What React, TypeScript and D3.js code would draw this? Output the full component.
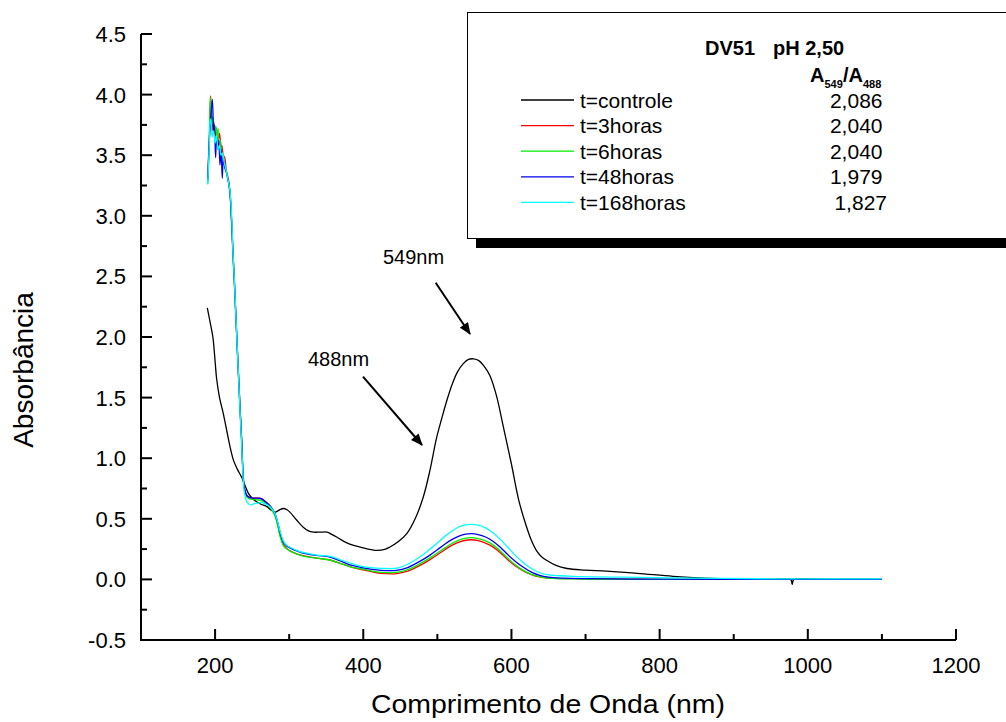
import React from "react";
import * as d3 from "d3";

const W = 1006;
const H = 722;

const xTicksMajor = [200, 400, 600, 800, 1000, 1200];
const xTicksMinor = [300, 500, 700, 900, 1100];
const yTicksMajor = [-0.5, 0, 0.5, 1.0, 1.5, 2.0, 2.5, 3.0, 3.5, 4.0, 4.5];
const yTicksMinor = [-0.25, 0.25, 0.75, 1.25, 1.75, 2.25, 2.75, 3.25, 3.75, 4.25];

const seriesNames = ["t=controle", "t=3horas", "t=6horas", "t=48horas", "t=168horas"];
const ratioValues = ["2,086", "2,040", "2,040", "1,979", "1,827"];
const seriesColors = ["#000000", "#ff0000", "#00ee00", "#0000ee", "#00ffff"];

const controle: [number, number][] = [
  [189.5, 2.24], [193, 2.13], [197, 2.0], [200, 1.8], [202, 1.66], [206, 1.5], [211, 1.37], [216, 1.22],
  [220, 1.1], [225, 0.98], [230, 0.91], [236, 0.84], [240, 0.78], [245, 0.71], [250, 0.67], [256, 0.64],
  [262, 0.62], [270, 0.6], [276, 0.57], [281, 0.555], [286, 0.57], [292, 0.585], [297, 0.575], [301, 0.555],
  [310, 0.49], [319, 0.43], [326, 0.4], [333, 0.39], [342, 0.39], [351, 0.39], [358, 0.37], [364, 0.35],
  [375, 0.31], [387, 0.28], [400, 0.26], [418, 0.24], [430, 0.25], [436, 0.267], [447, 0.31], [459, 0.38],
  [470, 0.5], [481, 0.68], [490, 0.9], [499, 1.17], [506, 1.33], [513, 1.48], [520, 1.61], [527, 1.71],
  [535, 1.78], [542, 1.815], [549, 1.82], [556, 1.805], [563, 1.76], [571, 1.68], [580, 1.51], [589, 1.26],
  [600, 0.95], [610, 0.65], [620, 0.44], [627, 0.32], [634, 0.235], [641, 0.185], [648, 0.155], [660, 0.115],
  [675, 0.09], [700, 0.077], [728, 0.068], [770, 0.05], [818, 0.025], [860, 0.01], [908, 0.002], [950, 0.0],
  [977, -0.003], [979, -0.04], [981, -0.003], [1020, 0.0], [1060, 0.0], [1100, 0.0],
];

const horas3: [number, number][] = [
  [190, 3.28], [192, 3.6], [194, 3.99], [195, 3.85], [196, 3.7], [198, 3.78], [200, 3.66], [202, 3.72],
  [204, 3.62], [206, 3.68], [208, 3.55], [209, 3.58], [211, 3.5], [213, 3.48], [215, 3.38], [218, 3.3],
  [220, 3.2], [222, 3.0], [224, 2.7], [226, 2.45], [230, 1.9], [234, 1.37], [236, 1.12], [238, 0.84],
  [240, 0.74], [243, 0.69], [247, 0.675], [252, 0.67], [258, 0.67], [263, 0.665], [268, 0.64], [272, 0.62],
  [277, 0.58], [281, 0.53], [285, 0.44], [288, 0.36], [292, 0.29], [296, 0.26], [301, 0.235], [310, 0.21],
  [320, 0.195], [337, 0.175], [355, 0.16], [370, 0.13], [385, 0.1], [400, 0.078], [418, 0.055], [430, 0.048],
  [445, 0.048], [460, 0.068], [470, 0.095], [481, 0.13], [490, 0.163], [500, 0.203], [510, 0.245], [520, 0.283],
  [530, 0.31], [538, 0.323], [546, 0.327], [555, 0.32], [565, 0.3], [575, 0.268], [585, 0.22], [595, 0.162],
  [605, 0.112], [616, 0.07], [627, 0.04], [638, 0.02], [650, 0.01], [700, 0.005], [800, 0.0], [900, 0.0],
  [1000, 0.0], [1100, 0.0],
];

const horas6: [number, number][] = [
  [190, 3.26], [192, 3.55], [193.5, 3.98], [195, 3.75], [197, 3.82], [199, 3.68], [201, 3.74], [203, 3.64],
  [204, 3.72], [205, 3.6], [207, 3.62], [209, 3.5], [212, 3.45], [215, 3.37], [218, 3.28], [220, 3.19],
  [222, 2.98], [224, 2.7], [226, 2.45], [230, 1.9], [234, 1.37], [236, 1.12], [238, 0.84], [240, 0.74],
  [243, 0.68], [247, 0.665], [252, 0.66], [258, 0.655], [263, 0.65], [268, 0.63], [272, 0.61], [277, 0.57],
  [281, 0.52], [285, 0.43], [288, 0.35], [292, 0.28], [296, 0.255], [301, 0.235], [310, 0.21], [320, 0.19],
  [337, 0.175], [355, 0.16], [370, 0.13], [385, 0.1], [400, 0.085], [418, 0.062], [430, 0.056], [445, 0.058],
  [460, 0.08], [470, 0.108], [481, 0.145], [490, 0.178], [500, 0.218], [510, 0.26], [520, 0.298], [530, 0.327],
  [538, 0.34], [546, 0.344], [555, 0.337], [565, 0.318], [575, 0.285], [585, 0.235], [595, 0.175], [605, 0.12],
  [616, 0.074], [627, 0.042], [638, 0.022], [650, 0.01], [700, 0.003], [800, 0.0], [900, 0.0], [1000, 0.0],
  [1100, 0.0],
];

const horas48: [number, number][] = [
  [190, 3.3], [192, 3.6], [194, 3.8], [196.3, 3.96], [198, 3.7], [199, 3.75], [200.7, 3.48], [202, 3.65],
  [204, 3.55], [205, 3.62], [206.6, 3.42], [208, 3.55], [209.7, 3.31], [211, 3.48], [213, 3.4], [215, 3.36],
  [218, 3.28], [220, 3.2], [222, 2.99], [224, 2.72], [226, 2.47], [230, 1.9], [234, 1.37], [236, 1.14],
  [238, 0.84], [240, 0.74], [243, 0.69], [247, 0.675], [252, 0.67], [258, 0.67], [263, 0.665], [268, 0.64],
  [272, 0.62], [277, 0.585], [281, 0.54], [285, 0.46], [288, 0.38], [292, 0.31], [296, 0.28], [301, 0.26],
  [310, 0.235], [320, 0.215], [337, 0.198], [355, 0.184], [370, 0.15], [385, 0.115], [400, 0.095], [418, 0.078],
  [430, 0.073], [445, 0.074], [460, 0.098], [470, 0.128], [481, 0.165], [490, 0.2], [500, 0.245], [510, 0.29],
  [520, 0.33], [530, 0.36], [538, 0.373], [546, 0.377], [555, 0.37], [565, 0.35], [575, 0.315], [585, 0.265],
  [595, 0.205], [605, 0.15], [616, 0.1], [627, 0.06], [638, 0.033], [650, 0.018], [670, 0.01], [700, 0.006],
  [800, 0.002], [900, 0.0], [1000, 0.0], [1100, 0.0],
];

const horas168: [number, number][] = [
  [190, 3.26], [192, 3.55], [193.5, 3.8], [195, 3.75], [196, 3.65], [198, 3.7], [200, 3.6], [202, 3.66],
  [204, 3.55], [206, 3.58], [208, 3.5], [210, 3.52], [212, 3.45], [215, 3.37], [218, 3.28], [220, 3.21],
  [222.4, 2.99], [224, 2.72], [226, 2.47], [230, 1.9], [234, 1.35], [236, 1.1], [238, 0.82], [240, 0.7],
  [243, 0.64], [246, 0.62], [249, 0.615], [253, 0.625], [258, 0.63], [263, 0.635], [268, 0.62], [272, 0.61],
  [277, 0.58], [281, 0.54], [285, 0.46], [288, 0.39], [292, 0.32], [296, 0.285], [301, 0.265], [310, 0.24],
  [320, 0.22], [337, 0.2], [355, 0.19], [370, 0.16], [385, 0.13], [400, 0.105], [418, 0.093], [430, 0.09],
  [445, 0.092], [460, 0.125], [470, 0.16], [481, 0.205], [490, 0.25], [500, 0.3], [510, 0.355], [520, 0.4],
  [530, 0.435], [538, 0.45], [546, 0.454], [555, 0.447], [565, 0.425], [575, 0.385], [585, 0.33], [595, 0.265],
  [605, 0.2], [616, 0.138], [627, 0.09], [638, 0.055], [650, 0.037], [665, 0.03], [683, 0.025], [750, 0.018],
  [850, 0.01], [950, 0.005], [1100, 0.005],
];

const allSeries = [controle, horas3, horas6, horas48, horas168];

const annotations = [
  { label: "549nm", tx: 383, ty: 264, x1: 435.7, y1: 282.7, x2: 470, y2: 334 },
  { label: "488nm", tx: 308, ty: 366, x1: 363, y1: 376.7, x2: 422, y2: 445 },
];

const FONT = "'Liberation Sans', Arial, Helvetica, sans-serif";

export default function App() {
  const x = d3.scaleLinear().domain([100, 1200]).range([141, 956]);
  const y = d3.scaleLinear().domain([-0.5, 4.5]).range([640, 34]);
  const line = d3
    .line<[number, number]>()
    .x((d) => x(d[0]))
    .y((d) => y(d[1]))
    .curve(d3.curveCatmullRom.alpha(0.5));

  const axisX0 = x(100);
  const axisY0 = y(-0.5);

  return (
    <div style={{ position: "fixed", left: 0, top: 0, width: W, height: H, background: "#fff" }}>
      <svg width={W} height={H} style={{ display: "block", fontFamily: FONT }}>
        <defs>
          <marker id="arrowhead" viewBox="0 0 12 10" refX="11" refY="5" markerWidth="7" markerHeight="5" orient="auto" markerUnits="strokeWidth">
            <path d="M0,0 L12,5 L0,10 z" fill="#000" />
          </marker>
        </defs>

        {/* data */}
        <g fill="none" strokeWidth={1.3} strokeLinejoin="round">
          {allSeries.map((s, i) => (
            <path key={i} d={line(s) || ""} stroke={seriesColors[i]} />
          ))}
        </g>

        {/* axes */}
        <g stroke="#000" strokeWidth={2} fill="none">
          <line x1={axisX0} y1={y(4.5)} x2={axisX0} y2={axisY0 + 1} />
          <line x1={axisX0 - 1} y1={axisY0} x2={x(1200)} y2={axisY0} />
          {yTicksMajor.map((t) => (
            <line key={"ym" + t} x1={axisX0} x2={axisX0 + 11} y1={y(t)} y2={y(t)} />
          ))}
          {yTicksMinor.map((t) => (
            <line key={"yn" + t} x1={axisX0} x2={axisX0 + 6} y1={y(t)} y2={y(t)} />
          ))}
          {xTicksMajor.map((t) => (
            <line key={"xm" + t} x1={x(t)} x2={x(t)} y1={axisY0} y2={axisY0 - 11} />
          ))}
          {xTicksMinor.map((t) => (
            <line key={"xn" + t} x1={x(t)} x2={x(t)} y1={axisY0} y2={axisY0 - 6} />
          ))}
        </g>
        <g fontSize={22} fill="#000">
          {yTicksMajor.map((t) => (
            <text key={"yl" + t} x={126} y={y(t)} dy="0.36em" textAnchor="end">
              {t.toFixed(1)}
            </text>
          ))}
          {xTicksMajor.map((t) => (
            <text key={"xl" + t} x={x(t)} y={673} textAnchor="middle">
              {t}
            </text>
          ))}
        </g>
        <text x={548} y={713} fontSize={26} textAnchor="middle" textLength={354} lengthAdjust="spacingAndGlyphs">
          Comprimento de Onda (nm)
        </text>
        <text transform="translate(33,370) rotate(-90)" fontSize={28} textAnchor="middle">
          Absorbância
        </text>

        {/* annotations */}
        {annotations.map((a) => (
          <g key={a.label}>
            <text x={a.tx} y={a.ty} fontSize={20}>
              {a.label}
            </text>
            <line x1={a.x1} y1={a.y1} x2={a.x2} y2={a.y2} stroke="#000" strokeWidth={2} markerEnd="url(#arrowhead)" />
          </g>
        ))}

        {/* legend box */}
        <rect x={476} y={21} width={600} height={227} fill="#000" />
        <rect x={467.5} y={12.5} width={600} height={226} fill="#fff" stroke="#000" strokeWidth={1} />
        <text x={705} y={55} fontSize={20} fontWeight="bold">DV51</text>
        <text x={773} y={55} fontSize={20} fontWeight="bold">pH 2,50</text>
        <g fontWeight="bold">
          <text x={810} y={82} fontSize={20}>A</text>
          <text x={824.5} y={88} fontSize={11}>549</text>
          <text x={843} y={82} fontSize={20}>/A</text>
          <text x={863} y={88} fontSize={11}>488</text>
        </g>
        {seriesNames.map((name, i) => {
          const ry = 100 + i * 25.6;
          return (
            <g key={name}>
              <line x1={521} x2={574} y1={ry} y2={ry} stroke={seriesColors[i]} strokeWidth={1.3} />
              <text x={580} y={ry} dy="0.36em" fontSize={21}>
                {name}
              </text>
              <text x={i === 4 ? 887 : 882.5} y={ry} dy="0.36em" fontSize={21} textAnchor="end">
                {ratioValues[i]}
              </text>
            </g>
          );
        })}
      </svg>
    </div>
  );
}
